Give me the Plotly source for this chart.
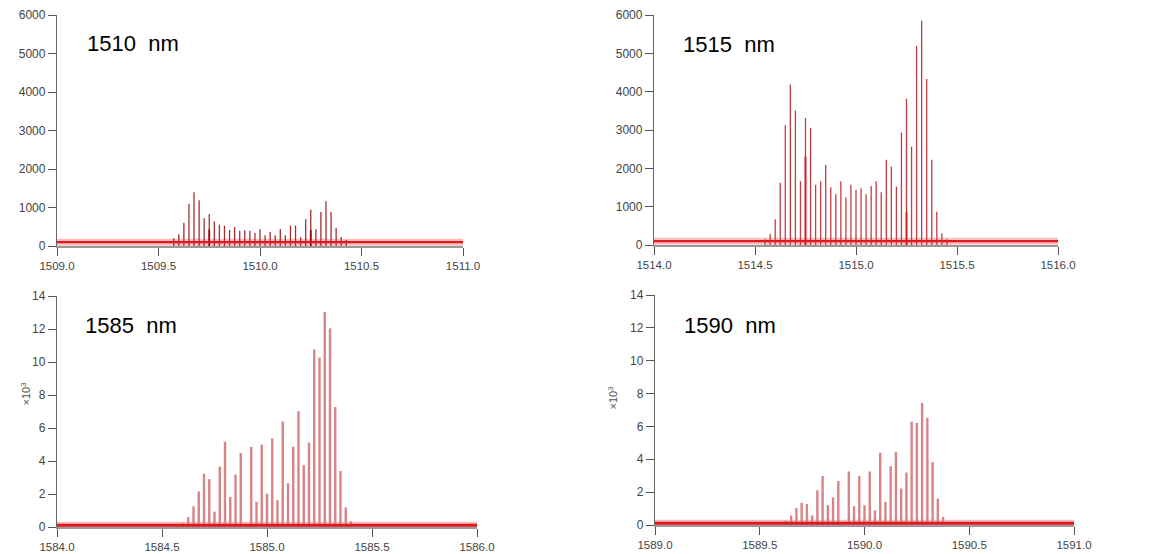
import plotly.graph_objects as go

# ---------------- data ----------------
# Panel 1: 1510 nm
wl_1510 = [1509.575, 1509.600, 1509.625, 1509.650, 1509.675, 1509.700, 1509.725,
           1509.750, 1509.775, 1509.800, 1509.825, 1509.850, 1509.875, 1509.900,
           1509.925, 1509.950, 1509.975, 1510.000, 1510.025, 1510.050, 1510.075,
           1510.100, 1510.125, 1510.150, 1510.175, 1510.200, 1510.225, 1510.250,
           1510.275, 1510.300, 1510.325, 1510.350, 1510.375, 1510.400, 1510.425]
int_1510 = [200, 305, 607, 1100, 1396, 1188, 720, 830, 642, 555, 529, 416, 494, 399,
            410, 395, 335, 434, 278, 364, 282, 442, 278, 532, 532, 230, 694, 940,
            434, 885, 1162, 885, 477, 234, 156]
wl_1510_b = [1509.750, 1510.250]
int_1510_b = [430, 416]

# Panel 2: 1515 nm
wl_1515 = [1514.550, 1514.575, 1514.600, 1514.625, 1514.650, 1514.675, 1514.700,
           1514.725, 1514.750, 1514.775, 1514.800, 1514.825, 1514.850, 1514.875,
           1514.900, 1514.925, 1514.950, 1514.975, 1515.000, 1515.025, 1515.050,
           1515.075, 1515.100, 1515.125, 1515.150, 1515.175, 1515.200, 1515.225,
           1515.250, 1515.275, 1515.300, 1515.325, 1515.350, 1515.375, 1515.400,
           1515.425, 1515.450]
int_1515 = [148, 287, 675, 1626, 3126, 4187, 3504, 1665, 3313, 3052, 1570, 1665,
            2087, 1504, 1326, 1665, 1240, 1570, 1435, 1483, 1326, 1539, 1665, 1378,
            2226, 2039, 1522, 2935, 3813, 2565, 5195, 5852, 4330, 2226, 865, 304, 148]
wl_1515_b = [1514.750, 1515.250]
int_1515_b = [2304, 870]

# Panel 3: 1585 nm (x10^3)
wl_1585 = [1584.600, 1584.625, 1584.650, 1584.675, 1584.700, 1584.725, 1584.750,
           1584.775, 1584.800, 1584.825, 1584.850, 1584.875, 1584.900, 1584.925,
           1584.950, 1584.975, 1585.000, 1585.025, 1585.050, 1585.075, 1585.100,
           1585.125, 1585.150, 1585.175, 1585.200, 1585.225, 1585.250, 1585.275,
           1585.300, 1585.325, 1585.350, 1585.375, 1585.400]
int_1585 = [0.24, 0.60, 1.25, 2.15, 3.23, 2.90, 0.93, 3.67, 5.17, 1.82, 3.18, 4.48,
            0.10, 4.86, 1.53, 5.00, 2.02, 5.37, 1.62, 6.39, 2.65, 4.87, 7.02, 3.75,
            5.12, 10.76, 10.27, 13.02, 12.04, 7.27, 3.39, 1.18, 0.35]

# Panel 4: 1590 nm (x10^3)
wl_1590 = [1589.625, 1589.650, 1589.675, 1589.700, 1589.725, 1589.750, 1589.775,
           1589.800, 1589.825, 1589.850, 1589.875, 1589.900, 1589.925, 1589.950,
           1589.975, 1590.000, 1590.025, 1590.050, 1590.075, 1590.100, 1590.125,
           1590.150, 1590.175, 1590.200, 1590.225, 1590.250, 1590.275, 1590.300,
           1590.325, 1590.350, 1590.375]
int_1590 = [0.26, 0.58, 1.03, 1.35, 1.27, 0.58, 2.11, 2.99, 1.20, 1.67, 2.68, 0.06,
            3.26, 1.14, 2.99, 1.20, 3.26, 0.89, 4.40, 1.40, 3.58, 4.45, 2.22, 3.19,
            6.29, 6.21, 7.43, 6.53, 3.83, 1.60, 0.49]

baseline_1510 = 100
baseline_1515 = 100
baseline_1585 = 0.1
baseline_1590 = 0.1

labels = ["1510  nm", "1515  nm", "1585  nm", "1590  nm"]
xranges = [[1509.0, 1511.0], [1514.0, 1516.0], [1584.0, 1586.0], [1589.0, 1591.0]]
yranges = [[0, 6000], [0, 6000], [0, 14], [0, 14]]
xticks = [[1509.0, 1509.5, 1510.0, 1510.5, 1511.0],
          [1514.0, 1514.5, 1515.0, 1515.5, 1516.0],
          [1584.0, 1584.5, 1585.0, 1585.5, 1586.0],
          [1589.0, 1589.5, 1590.0, 1590.5, 1591.0]]
yticks_top = [0, 1000, 2000, 3000, 4000, 5000, 6000]
yticks_bot = [0, 2, 4, 6, 8, 10, 12, 14]

# ---------------- helpers ----------------
def stems(xs, ys, base=0):
    sx, sy = [], []
    for x, y in zip(xs, ys):
        sx += [x, x, None]
        sy += [base, y, None]
    return sx, sy

fig = go.Figure()

panels = [
    (wl_1510, int_1510, wl_1510_b, int_1510_b, baseline_1510, "rgb(165,45,50)", 1.3, "rgb(150,10,20)"),
    (wl_1515, int_1515, wl_1515_b, int_1515_b, baseline_1515, "rgb(195,60,65)", 1.3, "rgb(220,20,30)"),
    (wl_1585, int_1585, None, None, baseline_1585, "rgb(216,132,134)", 2.4, None),
    (wl_1590, int_1590, None, None, baseline_1590, "rgb(216,132,134)", 2.4, None),
]

for i, (xs, ys, xb, yb, base, col, w, colb) in enumerate(panels):
    ax = "" if i == 0 else str(i + 1)
    xa, ya = "x" + ax, "y" + ax
    xr = xranges[i]
    fig.add_trace(go.Scatter(x=xr, y=[base, base], mode="lines", xaxis=xa, yaxis=ya,
                             line=dict(color="rgba(240,140,140,0.55)", width=7),
                             hoverinfo="skip", showlegend=False))
    sx, sy = stems(xs, ys)
    fig.add_trace(go.Scatter(x=sx, y=sy, mode="lines", xaxis=xa, yaxis=ya,
                             line=dict(color=col, width=w), showlegend=False))
    if xb is not None:
        bx, by = stems(xb, yb)
        fig.add_trace(go.Scatter(x=bx, y=by, mode="lines", xaxis=xa, yaxis=ya,
                                 line=dict(color=colb, width=1.8), showlegend=False))
    fig.add_trace(go.Scatter(x=xr, y=[base, base], mode="lines", xaxis=xa, yaxis=ya,
                             line=dict(color="rgb(225,25,30)", width=2.2 if i < 2 else 3),
                             hoverinfo="skip", showlegend=False))

# The page body has an 8px margin: work in page pixels, convert to figure pixels.
OFF = 8
W, H = 1150 - OFF, 554 - OFF
# pixel boxes in page coords (left, right, top, bottom)
boxes = [(57, 463, 15, 246), (654, 1058, 15, 245), (57, 477, 296, 527), (655, 1074, 295, 525)]

axis_common = dict(showline=True, linecolor="#666", linewidth=1.3, ticks="outside",
                   ticklen=8, tickwidth=1.2, tickcolor="#555", showgrid=False,
                   zeroline=False, automargin=False,
                   tickfont=dict(family="Liberation Sans", size=11.5, color="#444"))

layout = dict(width=W, height=H, margin=dict(l=0, r=0, t=0, b=0, autoexpand=False),
              paper_bgcolor="white", plot_bgcolor="white", showlegend=False)

for i, (l, r, t, b) in enumerate(boxes):
    ax = "" if i == 0 else str(i + 1)
    xd = [(l - OFF) / W, (r - OFF) / W]
    yd = [1 - (b - OFF) / H, 1 - (t - OFF) / H]
    layout["xaxis" + ax] = dict(axis_common, domain=xd, range=xranges[i], anchor="y" + ax,
                                tickvals=xticks[i], ticktext=["%.1f" % v for v in xticks[i]],
                                linecolor="#999", linewidth=2)
    yt = yticks_top if i < 2 else yticks_bot
    layout["yaxis" + ax] = dict(axis_common, domain=yd, range=yranges[i], anchor="x" + ax,
                                tickvals=yt, ticktext=[str(v) for v in yt],
                                tickfont=dict(family="Liberation Sans", size=12, color="#444"))

fig.update_layout(**layout)

# panel labels (page coords)
label_pos = [(85, 43), (681, 45), (83, 325), (682, 325)]
for (px, py), txt in zip(label_pos, labels):
    fig.add_annotation(x=(px - OFF) / W, y=1 - (py - OFF) / H, xref="paper", yref="paper",
                       text=txt, showarrow=False, xanchor="left", yanchor="middle",
                       font=dict(family="Liberation Sans", size=22, color="black"))

# y titles for lower panels
for px, py in [(16, 408), (612, 412)]:
    fig.add_annotation(x=(px - OFF) / W, y=1 - (py - OFF) / H, xref="paper", yref="paper",
                       text="×10<sup>3</sup>", textangle=-90, showarrow=False,
                       font=dict(family="Liberation Sans", size=11, color="#555"))

fig.write_html("out.html")
